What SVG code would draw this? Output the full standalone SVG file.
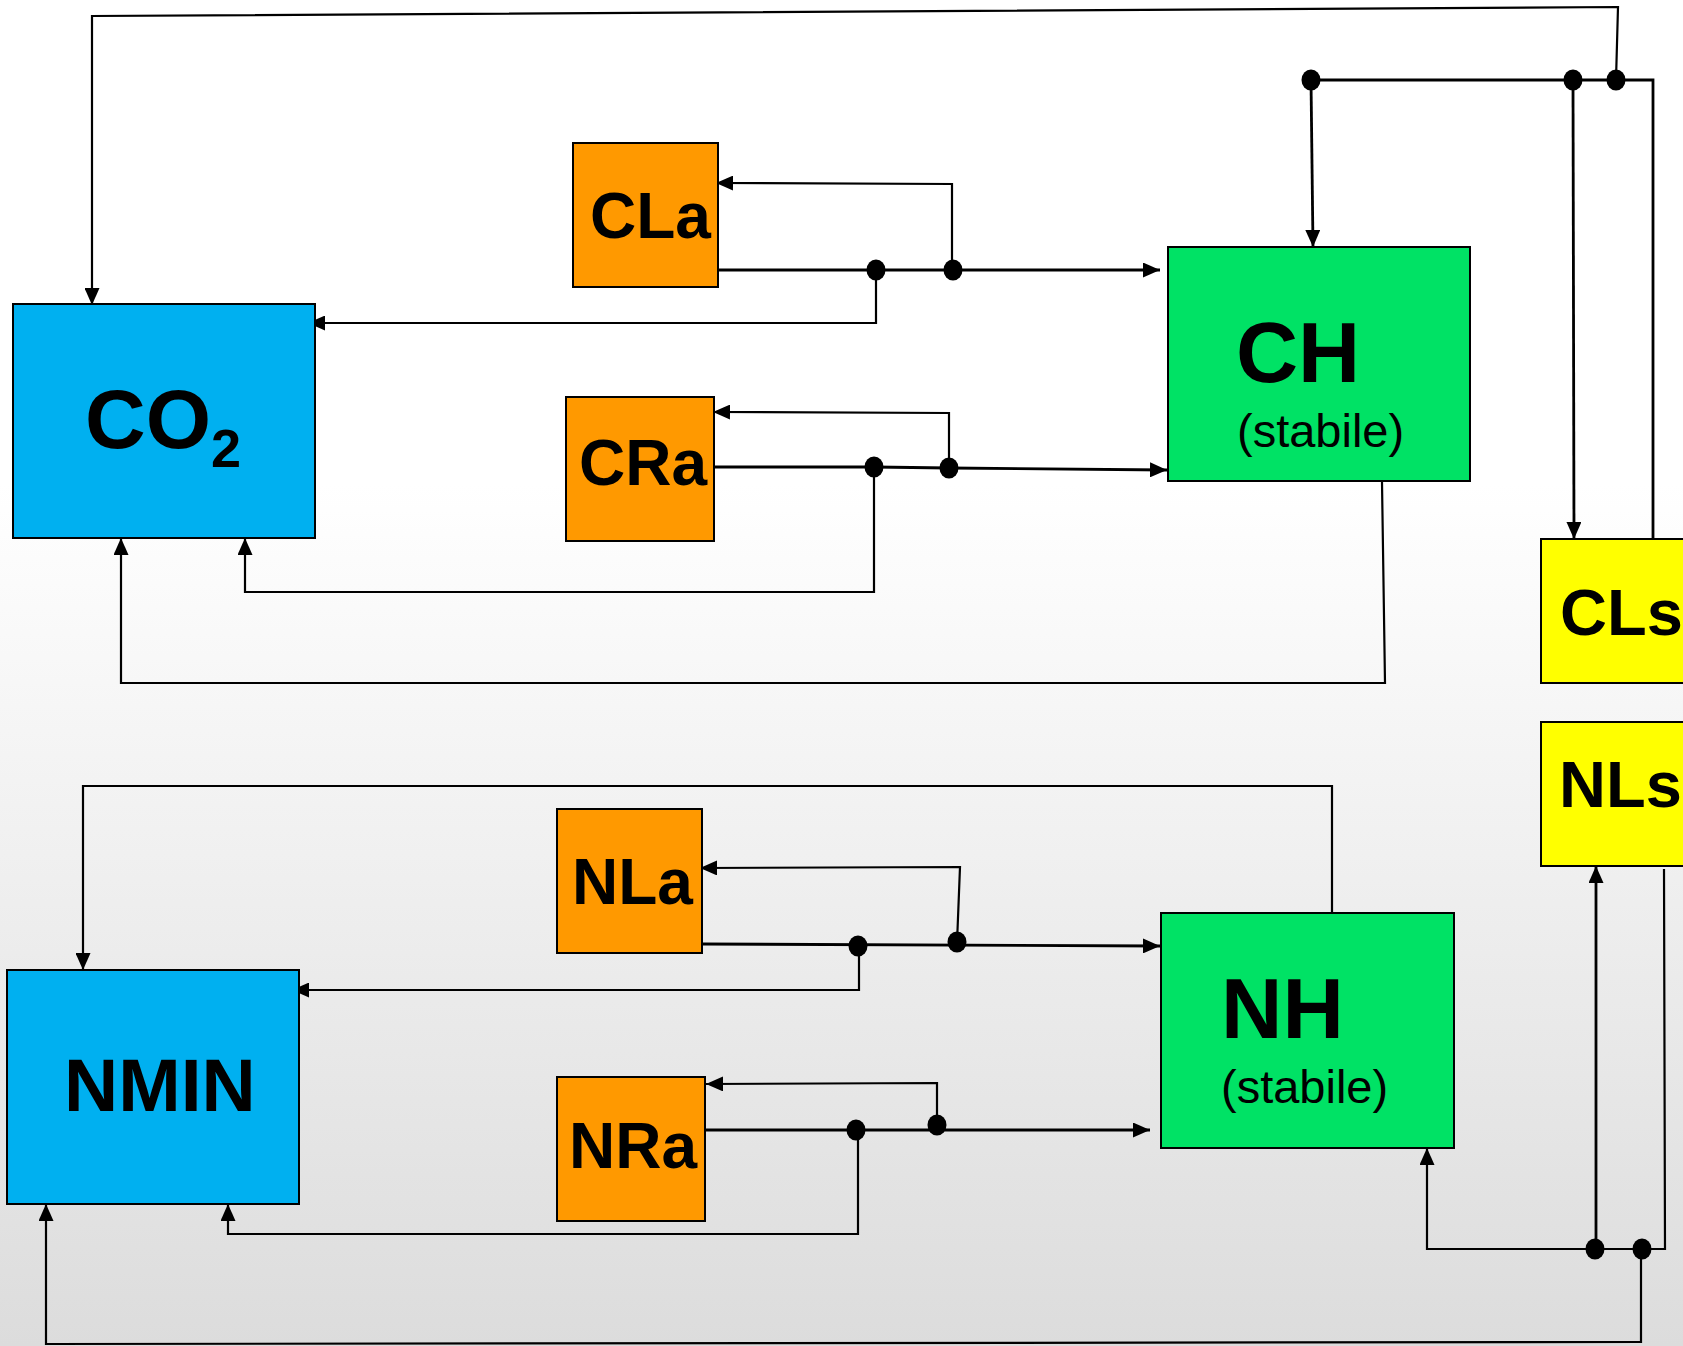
<svg xmlns="http://www.w3.org/2000/svg" width="1683" height="1346" viewBox="0 0 1683 1346">
<defs>
<linearGradient id="bg" x1="0" y1="0" x2="0" y2="1">
<stop offset="0" stop-color="#ffffff"/>
<stop offset="0.36" stop-color="#ffffff"/>
<stop offset="1" stop-color="#dcdcdc"/>
</linearGradient>
<marker id="arr" viewBox="0 0 17 15" markerWidth="17" markerHeight="15" refX="17" refY="7.5" orient="auto" markerUnits="userSpaceOnUse">
<path d="M0,0 L17,7.5 L0,15 z" fill="#000"/>
</marker>
</defs>
<style>
.box{stroke:#000;stroke-width:2}
.blue{fill:#00B0F0}
.orange{fill:#FF9900}
.green{fill:#00E265}
.yellow{fill:#FFFF00}
.lbl{font-family:"Liberation Sans",Arial,sans-serif;font-weight:bold;fill:#000}
.sub{font-family:"Liberation Sans",Arial,sans-serif;font-weight:normal;fill:#000}
.c{fill:none;stroke:#000;stroke-width:2.2;stroke-linejoin:miter}
.m{stroke-width:2.8}
.a{marker-end:url(#arr)}
.dot{fill:#000}
</style>
<rect x="0" y="0" width="1683" height="1346" fill="url(#bg)"/>

<g id="connectors">
<polyline class="c a" points="1616,80 1618,7 92,16 92,305"/>
<polyline class="c m" points="1311,80 1653,80 1653,539"/>
<polyline class="c m a" points="1311,80 1313,247"/>
<polyline class="c m a" points="1573,80 1574,539"/>
<polyline class="c m a" points="718,270 1160,270"/>
<polyline class="c a" points="952,270 952,184 716,183"/>
<polyline class="c a" points="876,270 876,323 308,323"/>
<polyline class="c m a" points="714,467 874,467 949,468 1167,470"/>
<polyline class="c a" points="949,468 949,413 713,412"/>
<polyline class="c a" points="874,467 874,592 245,592 245,538"/>
<polyline class="c a" points="1382,482 1385,683 121,683 121,538"/>
<polyline class="c a" points="1332,913 1332,786 83,786 83,970"/>
<polyline class="c m a" points="702,944 1160,946"/>
<polyline class="c a" points="957,943 960,867 700,868"/>
<polyline class="c a" points="859,946 859,990 292,990"/>
<polyline class="c m a" points="706,1130 1150,1130"/>
<polyline class="c a" points="937,1127 937,1083 706,1084"/>
<polyline class="c a" points="858,1130 858,1234 228,1234 228,1204"/>
<polyline class="c a" points="1664,869 1665,1249 1427,1249 1427,1148"/>
<polyline class="c m a" points="1596,1249 1596,866"/>
<polyline class="c a" points="1641,1249 1641,1342 46,1344 46,1204"/>
<ellipse class="dot" cx="1311" cy="80" rx="9.5" ry="10.5"/>
<ellipse class="dot" cx="1573" cy="80" rx="9.5" ry="10.5"/>
<ellipse class="dot" cx="1616" cy="80" rx="9.5" ry="10.5"/>
<ellipse class="dot" cx="876" cy="270" rx="9.5" ry="10.5"/>
<ellipse class="dot" cx="953" cy="270" rx="9.5" ry="10.5"/>
<ellipse class="dot" cx="874" cy="467" rx="9.5" ry="10.5"/>
<ellipse class="dot" cx="949" cy="468" rx="9.5" ry="10.5"/>
<ellipse class="dot" cx="858" cy="946" rx="9.5" ry="10.5"/>
<ellipse class="dot" cx="957" cy="942" rx="9.5" ry="10.5"/>
<ellipse class="dot" cx="856" cy="1130" rx="9.5" ry="10.5"/>
<ellipse class="dot" cx="937" cy="1125" rx="9.5" ry="10.5"/>
<ellipse class="dot" cx="1595" cy="1249" rx="9.5" ry="10.5"/>
<ellipse class="dot" cx="1642" cy="1249" rx="9.5" ry="10.5"/>
</g>

<g id="CO2">
<rect class="box blue" x="13" y="304" width="302" height="234"/>
<text class="lbl" x="85" y="448" font-size="84">CO<tspan font-size="54" dy="19">2</tspan></text>
</g>
<g id="CLa">
<rect class="box orange" x="573" y="143" width="145" height="144"/>
<text class="lbl" x="590" y="238" font-size="64">CLa</text>
</g>
<g id="CRa">
<rect class="box orange" x="566" y="397" width="148" height="144"/>
<text class="lbl" x="579" y="485" font-size="64">CRa</text>
</g>
<g id="CH">
<rect class="box green" x="1168" y="247" width="302" height="234"/>
<text class="lbl" x="1236" y="382" font-size="86">CH</text>
<text class="sub" x="1237" y="447" font-size="47">(stabile)</text>
</g>
<g id="CLs">
<rect class="box yellow" x="1541" y="539" width="150" height="144"/>
<text class="lbl" x="1560" y="635" font-size="65">CLs</text>
</g>
<g id="NLs">
<rect class="box yellow" x="1541" y="722" width="150" height="144"/>
<text class="lbl" x="1559" y="807" font-size="65">NLs</text>
</g>
<g id="NLa">
<rect class="box orange" x="557" y="809" width="145" height="144"/>
<text class="lbl" x="572" y="904" font-size="64">NLa</text>
</g>
<g id="NRa">
<rect class="box orange" x="557" y="1077" width="148" height="144"/>
<text class="lbl" x="569" y="1168" font-size="64">NRa</text>
</g>
<g id="NH">
<rect class="box green" x="1161" y="913" width="293" height="235"/>
<text class="lbl" x="1221" y="1038" font-size="85">NH</text>
<text class="sub" x="1221" y="1103" font-size="47">(stabile)</text>
</g>
<g id="NMIN">
<rect class="box blue" x="7" y="970" width="292" height="234"/>
<text class="lbl" x="64" y="1111" font-size="75">NMIN</text>
</g>
</svg>
